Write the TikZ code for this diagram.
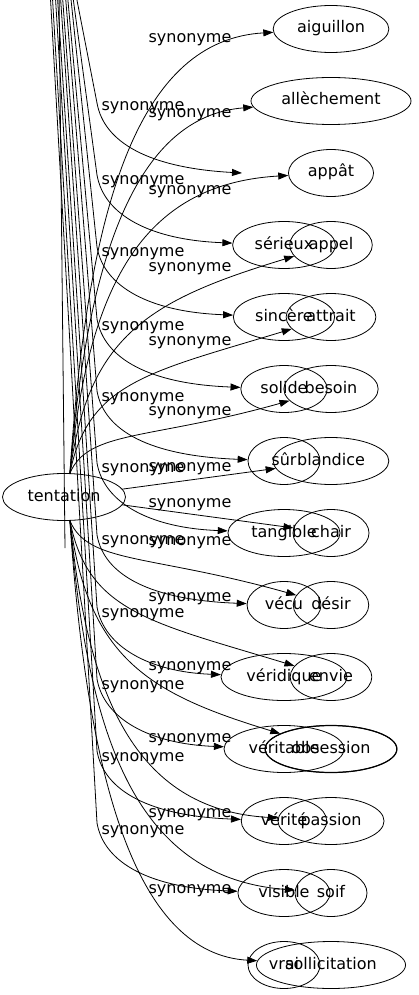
\documentclass[tikz,border=0pt]{standalone}
\usepackage{fontspec}
\setmainfont{DejaVu Sans}
\usetikzlibrary{shapes.geometric,arrows.meta}

\begin{document}
\begin{tikzpicture}[x=1pt,y=-1pt,
    font=\fontsize{16}{19}\selectfont,
    mot/.style={ellipse,draw,line width=0.8pt,minimum width=72pt,minimum height=47pt,
      inner xsep=7pt,inner ysep=3pt,text height=12pt,text depth=4pt},
    lien/.style={draw,line width=0.8pt,-{Triangle[length=10pt,width=7pt]}},
    etiq/.style={inner sep=0pt,text height=12pt,text depth=4pt}]
  \useasboundingbox (0,0) rectangle (419,995);
  \clip (0,0) rectangle (419,995);
  \node[mot] (tentation) at (64,497) {tentation};
  % colonne de droite
  \foreach \nom/\txt [count=\i from 0] in {aiguillon/aiguillon,allechement/allèchement,
      appat/appât,appel/appel,attrait/attrait,besoin/besoin,blandice/blandice,chair/chair,
      desir/désir,envie/envie,obsession/obsession,passion/passion,soif/soif,
      sollicitation/sollicitation}
    \node[mot] (\nom) at (331,{29+72*\i}) {\txt};
  \node[mot,line width=1.2pt] at (obsession) {\phantom{obsession}};
  % colonne du milieu
  \foreach \nom/\txt [count=\i from 3] in {serieux/sérieux,sincere/sincère,solide/solide,
      sur/sûr,tangible/tangible,vecu/vécu,veridique/véridique,veritable/véritable,
      verite/vérité,visible/visible,vrai/vrai}
    \node[mot] (\nom) at (284,{29+72*\i}) {\txt};
  \coordinate (vide) at (242,173);
  \coordinate (bout) at (65,548);

  % depuis tentation
  \foreach \nom/\ya/\xb/\yb in {aiguillon/200/140/40,allechement/247/140/116,
      appat/289/140/184,appel/335/150/300,attrait/382/150/372,besoin/430/150/440}
    \draw[lien] (tentation.76) .. controls (88,\ya) and (\xb,\yb) .. (\nom);
  \foreach \nom/\ya/\xb/\yb in {sollicitation/200/140/40,soif/247/140/116,
      passion/289/140/184,obsession/335/150/300,envie/382/150/372,desir/430/150/440}
    \draw[lien] (tentation.-76) .. controls (88,{994-\ya}) and (\xb,{994-\yb}) .. (\nom);
  \draw[lien] (tentation) -- (blandice);
  \draw[lien] (tentation) -- (chair);

  % depuis le haut
  \foreach \nom/\xh/\yc in {vide/75/173,serieux/72/245,sincere/70/317,solide/67/389,
      sur/65/461,tangible/62/533,vecu/60/605,veridique/57/677,veritable/55/749,
      verite/52/821,visible/50/893}
    \draw[lien] (\xh,-10) -- (97,\yc-70) .. controls (104,\yc-30) and (150,\yc-5) .. (\nom);
  \draw[line width=0.8pt] (59,-10) -- (bout);

  % etiquettes
  \foreach \y in {107,181,252,326,397,468,540,613,685,757,830}
    \node[etiq] (sa\y) at (143,\y) {synonyme};
  \foreach \y in {39,114,190,267,341,411,467,503,541,597,666,738,813,889}
    \node[etiq] (sb\y) at (190,\y) {synonyme};
\end{tikzpicture}
\end{document}
